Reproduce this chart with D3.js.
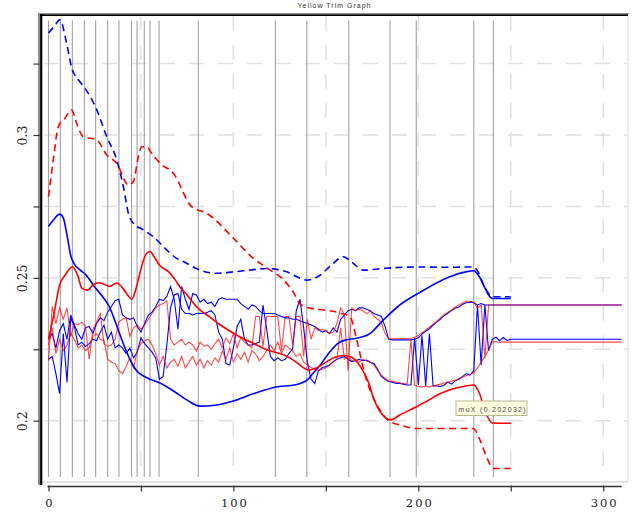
<!DOCTYPE html>
<html><head><meta charset="utf-8">
<script src="https://cdn.jsdelivr.net/npm/d3@7"></script>
<style>body{margin:0;background:#fff}svg{display:block}</style>
</head><body><svg id="c" width="634" height="514"></svg>
<script>
const title = "Yellow Trim Graph";
const tipText = "muX (0.202032)";
const xTicks = [0, 50, 100, 150, 200, 250, 300];
const xLabelTicks = [0, 100, 200, 300];
const yTicks = [0.2, 0.225, 0.25, 0.275, 0.3, 0.325];
const yLabelTicks = [0.2, 0.25, 0.3];
const eventX = [0, 6.4, 12.9, 19.4, 25.5, 32, 38.1, 44.9, 47.9, 51.8, 54.9, 59.8, 81, 122.7, 139.7, 162.4, 184.7, 198.9, 230, 240.6];

// dashed upper bands
const bDashX = [0,3,6.2,9.8,12.6,16,19.7,26.1,31.5,36.9,40.5,43.2,45.9,51.3,56.7,63.9,69.3,72.9,81.9,90.9,100,110,118,128.8,134,139.6,146.8,153,159.4,164,170.3,181,199,215,229.7,232,235,238,240.6,250];
const bDashV = [0.3357,0.338,0.3403,0.3321,0.3234,0.3195,0.3164,0.3088,0.2994,0.2913,0.2819,0.2726,0.2691,0.2668,0.2644,0.2598,0.2568,0.2557,0.2527,0.2516,0.2521,0.2528,0.2533,0.2521,0.2505,0.2492,0.2509,0.2545,0.2574,0.2555,0.2527,0.2533,0.2538,0.2537,0.2538,0.2525,0.248,0.2445,0.2434,0.2434];
const rDashX = [0,2.6,5.3,8.9,12.5,15.2,18.8,26.1,31.5,36.9,43.2,45.9,48.6,50.4,53.1,55.8,60.3,67.5,77.4,85.6,100,110.8,118,127,132.4,136,141.4,146.8,157.7,163.1,166.7,171.2,177.7,183.6,190.1,199.1,229.7,233.4,237.2,240.6,250];
const rDashV = [0.2784,0.2913,0.3029,0.3059,0.3088,0.3041,0.2994,0.2983,0.2930,0.2901,0.2825,0.2837,0.2924,0.2959,0.2959,0.2936,0.2901,0.2866,0.2749,0.2726,0.2639,0.2568,0.2535,0.2493,0.245,0.2409,0.2394,0.2389,0.2377,0.2364,0.2283,0.216,0.2055,0.2002,0.1985,0.1973,0.1973,0.1932,0.1869,0.1833,0.1833];

// smooth solid lines
const bSmoothX = [0,3,6,8,10,12,14,17,20,25,30,33,36,39,42,45,48,51,55,60,69,75,82,90,100,111,124,133,140,143,147,152,157,161,166,174,181,190,200,217,225,230,233,236,238,240,250];
const bSmoothV = [0.268,0.2705,0.2723,0.271,0.265,0.2578,0.2548,0.2528,0.2512,0.2468,0.2428,0.2398,0.2348,0.2295,0.2245,0.2202,0.2172,0.2158,0.2145,0.2133,0.2098,0.2072,0.2051,0.2054,0.2069,0.2095,0.2119,0.2125,0.2143,0.2165,0.2195,0.224,0.2273,0.2283,0.2288,0.2306,0.2352,0.2405,0.2446,0.2504,0.252,0.2525,0.2504,0.2465,0.244,0.2428,0.2428];
const rSmoothX = [0,3,6,9,13,16,18,21,24,27,30,33,37,40,43,45,47,49,51,53,55,57,60,65,68,71,75,78,82,87,93,100,106,112,118,124,128,134,138,141,145,150,155,160,164,167,170,173,176,179,182,185,190,199,205,212,218,223,227,230,233,236,240,250];
const rSmoothV = [0.2285,0.2375,0.2475,0.251,0.2539,0.2505,0.2464,0.2457,0.2475,0.2483,0.2478,0.247,0.2482,0.2465,0.2438,0.2425,0.2455,0.2505,0.2555,0.2585,0.2592,0.2575,0.2545,0.2521,0.2498,0.2469,0.244,0.2415,0.2387,0.2364,0.2335,0.2306,0.2285,0.2267,0.2248,0.2237,0.2228,0.2205,0.2185,0.2177,0.2185,0.2205,0.2222,0.2228,0.2222,0.2205,0.2175,0.2135,0.2075,0.2035,0.2012,0.2003,0.202,0.2049,0.207,0.2095,0.211,0.2118,0.2123,0.2125,0.2097,0.2037,0.1992,0.1991];

// jagged observed lines (sampled every 2 units from 0 to 240)
const jaggedX = d3.range(0, 241, 2);
const blueHi = [0.2285,0.2305,0.2255,0.2315,0.234, 0.2285,0.237,0.2335,0.2305,0.2285, 0.2325,0.233,0.2305,0.234,0.236, 0.235,0.238,0.240,0.242,0.2425,
 0.237,0.236,0.2355,0.236,0.233, 0.231,0.234,0.237,0.238,0.240, 0.2425,0.242,0.2435,0.247,0.2425, 0.232,0.247,0.2425,0.239,0.2445,
 0.244,0.2415,0.2425,0.241,0.2415, 0.240,0.2425,0.243,0.2425,0.2425, 0.2425,0.2425,0.241,0.240,0.239, 0.2405,0.240,0.2385,0.2375,0.2375,
 0.2375,0.2375,0.237,0.2365,0.236, 0.236,0.2355,0.2355,0.235,0.2345, 0.234,0.2335,0.233,0.232,0.231, 0.2315,0.2305,0.2325,0.231,0.2355,
 0.237,0.2385,0.239,0.2385,0.2395, 0.2395,0.239,0.2385,0.2375,0.237, 0.2365,0.233,0.2285,0.2283,0.2283, 0.2283,0.2283,0.2283,0.2283,0.2285,
 0.229,0.2303,0.2313,0.2322,0.2335, 0.2345,0.2356,0.2368,0.2376,0.2386, 0.2394,0.2398,0.2408,0.2413,0.2415, 0.2413,0.2405,0.241,0.2405,0.2405, 0.2405];
const blueLo = [0.2215,0.2225,0.2165,0.2095,0.2305, 0.2135,0.236,0.233,0.2265,0.2275, 0.226,0.227,0.2285,0.228,0.231, 0.2335,0.2285,0.231,0.2255,0.2265,
 0.2255,0.2235,0.2255,0.222,0.224, 0.229,0.227,0.2255,0.224,0.222, 0.2145,0.2155,0.2265,0.2395,0.244, 0.2445,0.239,0.2375,0.2375,0.237,
 0.2375,0.2375,0.2375,0.238,0.2385, 0.237,0.231,0.2285,0.22,0.2195, 0.2255,0.233,0.2355,0.2285,0.2265, 0.2265,0.227,0.2275,0.2405,0.232,
 0.2225,0.221,0.222,0.221,0.2215, 0.2235,0.225,0.2385,0.2425,0.2325, 0.2205,0.2145,0.213,0.2175,0.2185, 0.219,0.2195,0.2207,0.2215,0.222,
 0.2225,0.2215,0.2207,0.221,0.2215, 0.221,0.2212,0.2205,0.22,0.218, 0.2155,0.2145,0.2137,0.2135,0.213, 0.213,0.2128,0.2125,0.2125,0.229,
 0.2125,0.2298,0.2122,0.2305,0.2122, 0.2122,0.212,0.2125,0.2135,0.2128, 0.214,0.2145,0.2155,0.2165,0.216, 0.2175,0.2405,0.2195,0.2405,0.2245, 0.2285];
const redHi = [0.221,0.240,0.234,0.2395,0.2355, 0.2395,0.2295,0.234,0.2335,0.2345, 0.233,0.2215,0.232,0.2345,0.2375, 0.227,0.226,0.2265,0.2285,0.2345,
 0.2355,0.236,0.2295,0.2325,0.2335, 0.232,0.2335,0.2355,0.2375,0.2395, 0.2405,0.241,0.242,0.2285,0.2265, 0.2275,0.2285,0.2265,0.2275,0.2265,
 0.2245,0.2275,0.226,0.2265,0.225, 0.227,0.2285,0.2255,0.229,0.227, 0.2305,0.2255,0.229,0.2275,0.2265, 0.2255,0.2365,0.2365,0.226,0.2365,
 0.2365,0.2365,0.2365,0.2245,0.2365, 0.2365,0.2265,0.2365,0.2365,0.2225, 0.2355,0.2285,0.2325,0.2315,0.232, 0.2315,0.2305,0.231,0.234,0.2395,
 0.2375,0.2175,0.2395,0.2385,0.239, 0.2385,0.2375,0.2385,0.2365,0.2355, 0.2345,0.2305,0.2287,0.2287,0.2287, 0.2287,0.2287,0.2287,0.2287,0.2292,
 0.2298,0.2308,0.2318,0.2328,0.2338, 0.2348,0.236,0.2372,0.238,0.2388, 0.2398,0.2405,0.2412,0.2418,0.2418, 0.2415,0.2395,0.2405,0.2218,0.2405, 0.2405];
const redLo = [0.2265,0.2325,0.2235,0.2285,0.2245, 0.2265,0.2305,0.2285,0.2255,0.2265, 0.2245,0.2255,0.2295,0.2305,0.2285, 0.228,0.2215,0.2205,0.22,0.2175,
 0.2165,0.219,0.222,0.2185,0.2245, 0.227,0.228,0.2285,0.2265,0.2235, 0.2195,0.2225,0.2185,0.2205,0.2215, 0.219,0.2225,0.2185,0.2205,0.2225,
 0.2195,0.2215,0.2185,0.221,0.2195, 0.222,0.2205,0.2245,0.2215,0.2255, 0.2205,0.2235,0.2215,0.224,0.2205, 0.2245,0.2235,0.221,0.2225,0.2245,
 0.2265,0.2245,0.2275,0.2235,0.2265, 0.2255,0.2245,0.2225,0.2235,0.2205, 0.2195,0.2185,0.218,0.2175,0.218, 0.2185,0.2195,0.2205,0.2215,0.2325,
 0.2215,0.2225,0.221,0.2215,0.2205, 0.2215,0.221,0.2205,0.2195,0.2175, 0.216,0.2148,0.214,0.2138,0.2135, 0.2133,0.213,0.2128,0.2283,0.2125,
 0.212,0.2118,0.212,0.2118,0.2122, 0.2125,0.2128,0.2132,0.2135,0.2138, 0.2142,0.2148,0.2152,0.2158,0.2162, 0.2168,0.2185,0.2205,0.2225,0.2248, 0.2275];

// final flat values after the last event
const tailX = [240, 242, 244, 246, 248, 250, 310];
const blueHiTail = [0.2405,0.2405,0.2405,0.2405,0.2405,0.2405,0.2405];
const redHiTail = [0.2405,0.2405,0.2405,0.2405,0.2405,0.2405,0.2405];
const blueLoTail = [0.2285,0.2292,0.228,0.2291,0.2281,0.2285,0.2285];
const redLoTail = [0.2275,0.2277,0.2274,0.2276,0.2275,0.2275,0.2275];

const svg = d3.select("#c");
const x = d3.scaleLinear().domain([0, 310]).range([48.5, 621.7]);
const y = d3.scaleLinear().domain([0.1796, 0.3420]).range([479, 15]);
const plotL = 42, plotR = 628, plotT = 15, plotB = 482;

svg.append("rect").attr("width", 634).attr("height", 514).attr("fill", "#fff");

// grid
const grid = svg.append("g").attr("stroke", "#e0e0e0").attr("stroke-width", 1.5).attr("stroke-dasharray", "15,14");
grid.selectAll("line.h").data(yTicks).join("line").attr("class", "h")
  .attr("x1", plotL + 2).attr("x2", plotR).attr("y1", d => y(d)).attr("y2", d => y(d));
grid.selectAll("line.v").data(xTicks.filter(d => d > 0)).join("line").attr("class", "v")
  .attr("x1", d => x(d)).attr("x2", d => x(d)).attr("y1", plotT + 1).attr("y2", 477);

// plot light border
svg.append("line").attr("x1", plotL).attr("x2", plotR).attr("y1", plotB).attr("y2", plotB).attr("stroke", "#e2e2e2").attr("stroke-width", 2);
svg.append("line").attr("x1", plotR).attr("x2", plotR).attr("y1", plotT).attr("y2", plotB).attr("stroke", "#e8e8e8").attr("stroke-width", 1.5);

// event lines
svg.append("g").selectAll("line").data(eventX).join("line")
  .attr("x1", d => x(d)).attr("x2", d => x(d)).attr("y1", 20.5).attr("y2", 477)
  .attr("stroke", "#a2a2a2").attr("stroke-width", 1.1);

const clip = svg.append("clipPath").attr("id", "pc").append("rect")
  .attr("x", plotL).attr("y", plotT).attr("width", plotR - plotL).attr("height", plotB - plotT);
const g = svg.append("g").attr("clip-path", "url(#pc)");

const lin = d3.line().x(d => x(d[0])).y(d => y(d[1]));
const smooth = d3.line().curve(d3.curveMonotoneX).x(d => x(d[0])).y(d => y(d[1]));
const zip = (xs, vs) => xs.map((v, i) => [v, vs[i]]);

function jag(vals, tail) { return zip(jaggedX, vals).concat(zip(tailX, tail).slice(1)); }

// jagged blue
g.append("path").datum(jag(blueHi, blueHiTail)).attr("d", lin).attr("fill", "none").attr("stroke", "#0000ff").attr("stroke-width", 1.1);
g.append("path").datum(jag(blueLo, blueLoTail)).attr("d", lin).attr("fill", "none").attr("stroke", "#0000ff").attr("stroke-width", 1.1);
// jagged red (semi-transparent over blue)
g.append("path").datum(jag(redHi, redHiTail)).attr("d", lin).attr("fill", "none").attr("stroke", "#ff0000").attr("stroke-opacity", 0.72).attr("stroke-width", 1.1);
g.append("path").datum(jag(redLo, redLoTail)).attr("d", lin).attr("fill", "none").attr("stroke", "#ff0000").attr("stroke-opacity", 0.72).attr("stroke-width", 1.1);

// smooth & dashed
g.append("path").datum(zip(bSmoothX, bSmoothV)).attr("d", smooth).attr("fill", "none").attr("stroke", "#0000ff").attr("stroke-width", 1.6);
g.append("path").datum(zip(rSmoothX, rSmoothV)).attr("d", smooth).attr("fill", "none").attr("stroke", "#ff0000").attr("stroke-width", 1.6);
g.append("path").datum(zip(bDashX, bDashV)).attr("d", smooth).attr("fill", "none").attr("stroke", "#0000ff").attr("stroke-width", 1.6).attr("stroke-dasharray", "7,4.5");
g.append("path").datum(zip(rDashX, rDashV)).attr("d", smooth).attr("fill", "none").attr("stroke", "#ff0000").attr("stroke-width", 1.6).attr("stroke-dasharray", "7,4.5");

// frame
svg.append("line").attr("x1", 39).attr("x2", 39).attr("y1", 13).attr("y2", 485).attr("stroke", "#8c8c8c").attr("stroke-width", 2);
svg.append("line").attr("x1", 41.2).attr("x2", 41.2).attr("y1", 14).attr("y2", 485).attr("stroke", "#000").attr("stroke-width", 2.2);
svg.append("line").attr("x1", 38).attr("x2", 629).attr("y1", 13.6).attr("y2", 13.6).attr("stroke", "#8c8c8c").attr("stroke-width", 1);
svg.append("line").attr("x1", 40).attr("x2", 628).attr("y1", 15.2).attr("y2", 15.2).attr("stroke", "#000").attr("stroke-width", 1.8);

// x axis
const xAxis = d3.axisBottom(x).tickValues(xTicks).tickSize(5).tickSizeOuter(0)
  .tickFormat(d => xLabelTicks.includes(d) ? String(d) : "");
const xg = svg.append("g").attr("transform", "translate(0,486.5)").call(xAxis);
xg.select(".domain").attr("stroke", "#333").attr("stroke-width", 1.5).attr("d", `M${x(0) - 1},0H${x(310)}`);
xg.selectAll(".tick line").attr("stroke", "#333").attr("stroke-width", 1.2).attr("y1", -1);
xg.selectAll(".tick text").attr("font-family", "DejaVu Serif").attr("font-size", 11.5).attr("fill", "#222")
  .attr("letter-spacing", "2px").attr("dx", "1px").attr("y", 20.5).attr("dy", 0);

// y axis
const yAxis = d3.axisLeft(y).tickValues(yTicks).tickSize(6).tickSizeOuter(0)
  .tickFormat(d => yLabelTicks.some(v => Math.abs(v - d) < 1e-9) ? String(+d.toFixed(3)) : "");
const yg = svg.append("g").attr("transform", "translate(39.5,0)").call(yAxis);
yg.select(".domain").remove();
yg.selectAll(".tick line").attr("stroke", "#333").attr("stroke-width", 1.2);
yg.selectAll(".tick text").attr("font-family", "DejaVu Serif").attr("font-size", 12.5).attr("fill", "#222")
  .attr("text-anchor", "middle").attr("x", 0).attr("dy", 0).attr("transform", "translate(-12.8,0) rotate(-90)");

// title
svg.append("text").attr("x", 334.5).attr("y", 7.5).attr("text-anchor", "middle")
  .attr("font-family", "Liberation Sans").attr("font-size", 7).attr("letter-spacing", "1px")
  .attr("fill", "#333").text(title);

// tooltip
svg.append("rect").attr("x", 456).attr("y", 401).attr("width", 71).attr("height", 14.5)
  .attr("fill", "#ffffe1").attr("stroke", "#b8b88e").attr("stroke-width", 1);
svg.append("text").attr("x", 458.5).attr("y", 411.6)
  .attr("font-family", "Liberation Sans").attr("font-size", 7).attr("letter-spacing", "1.3px")
  .attr("fill", "#444").text(tipText);
</script></body></html>
